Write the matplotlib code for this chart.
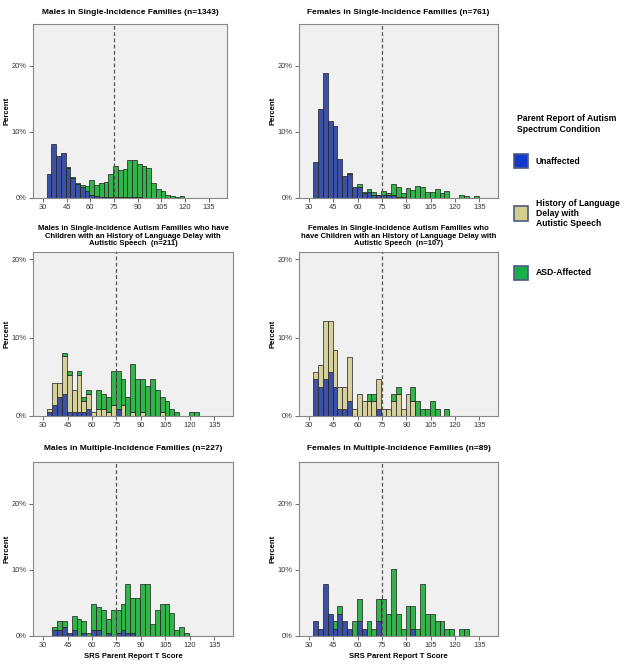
import numpy as np
import matplotlib
matplotlib.use('Agg')
import matplotlib.pyplot as plt
from matplotlib.patches import Rectangle

plt.rcParams['font.family'] = ['Liberation Sans', 'DejaVu Sans']

# bin centres of the SRS T-score histograms (bin width 3)
score_bins = [34, 37, 40, 43, 46, 49, 52, 55, 58, 61, 64, 67, 70, 73, 76, 79, 82,
              85, 88, 91, 94, 97, 100, 103, 106, 109, 112, 115, 118, 121, 124,
              127, 130, 133, 136]

# --- percent values ---
# males, single-incidence families (n=1343)
m_single_unaff = [3.6, 8.1, 6.4, 6.8, 4.6, 3.0, 2.1, 1.6, 1.1, 0.4, 0.3, 0.2, 0.2, 0.2,
                  0.2, 0.1, 0.1, 0.1, 0.1, 0.1, 0, 0, 0, 0, 0, 0, 0, 0, 0, 0, 0, 0, 0, 0, 0]
m_single_asd = [0, 0, 0, 0, 0.1, 0.1, 0.2, 0.3, 0.7, 2.3, 1.7, 2.1, 2.2, 3.4, 4.7, 4.2,
                4.3, 5.6, 5.7, 5.1, 4.9, 4.5, 2.2, 1.3, 1.1, 0.5, 0.3, 0.1, 0.3, 0, 0, 0, 0, 0, 0]

# females, single-incidence families (n=761)
f_single_unaff = [5.5, 13.4, 18.9, 11.7, 10.9, 5.9, 3.4, 3.7, 1.7, 1.7, 0.8, 0.9, 0.4, 0.4,
                  0.4, 0.5, 0.5, 0.2, 0.1, 0, 0, 0, 0, 0, 0, 0, 0, 0, 0, 0, 0, 0, 0, 0, 0]
f_single_asd = [0, 0, 0, 0, 0, 0, 0, 0.1, 0, 0.4, 0.1, 0.5, 0.5, 0.1, 0.6, 0.2, 1.6, 1.4,
                0.7, 1.5, 1.2, 1.8, 1.6, 0.9, 0.9, 1.3, 0.7, 1.0, 0, 0, 0.5, 0.3, 0, 0.3, 0]

# counts: males with language-delay children (n=211)
m_ld_n = 211
m_ld_unaff = [1, 3, 5, 6, 1, 1, 1, 1, 2, 0, 0, 0, 0, 0, 2, 0, 0, 0, 0, 0, 0, 0, 0, 0,
              0, 0, 0, 0, 0, 0, 0, 0, 0, 0, 0]
m_ld_delay = [1, 6, 4, 10, 10, 6, 10, 3, 4, 1, 2, 2, 1, 3, 0, 3, 0, 1, 0, 1, 0, 0, 0, 1,
              0, 0, 0, 0, 0, 0, 0, 0, 0, 0, 0]
m_ld_asd = [0, 0, 0, 1, 1, 0, 1, 1, 1, 0, 5, 4, 4, 9, 10, 7, 5, 13, 10, 9, 8, 10, 7, 4,
            4, 2, 1, 0, 0, 1, 1, 0, 0, 0, 0]

# counts: females with language-delay children (n=107)
f_ld_n = 107
f_ld_unaff = [5, 4, 5, 6, 4, 1, 1, 2, 0, 0, 0, 0, 0, 1, 0, 0, 0, 0, 0, 0, 0, 0, 0, 0,
              0, 0, 0, 0, 0, 0, 0, 0, 0, 0, 0]
f_ld_delay = [1, 3, 8, 7, 5, 3, 3, 6, 1, 3, 2, 2, 2, 4, 1, 1, 2, 3, 1, 3, 2, 0, 0, 0,
              0, 0, 0, 0, 0, 0, 0, 0, 0, 0, 0]
f_ld_asd = [0, 0, 0, 0, 0, 0, 0, 0, 0, 0, 0, 1, 1, 0, 0, 0, 1, 1, 0, 0, 2, 2, 1, 1,
            2, 1, 0, 1, 0, 0, 0, 0, 0, 0, 0]

# counts: males, multiple-incidence families (n=227)
m_multi_n = 227
m_multi_unaff = [0, 2, 2, 3, 1, 2, 0, 1, 0, 2, 2, 0, 1, 0, 1, 2, 1, 1, 0, 0, 0, 0, 0, 0,
                 0, 0, 0, 0, 0, 0, 0, 0, 0, 0, 0]
m_multi_asd = [0, 1, 3, 2, 0, 5, 6, 4, 1, 9, 8, 9, 5, 9, 8, 9, 17, 12, 13, 18, 18, 4, 9,
               11, 11, 8, 2, 3, 1, 0, 0, 0, 0, 0, 0]

# counts: females, multiple-incidence families (n=89)
f_multi_n = 89
f_multi_unaff = [2, 1, 7, 3, 1, 3, 2, 1, 0, 2, 1, 0, 0, 2, 0, 0, 0, 0, 0, 0, 1, 0, 0, 0,
                 0, 0, 0, 0, 0, 0, 0, 0, 0, 0, 0]
f_multi_asd = [0, 0, 0, 0, 1, 1, 0, 0, 2, 3, 0, 2, 1, 3, 5, 3, 9, 3, 1, 4, 3, 1, 7, 3,
               3, 2, 2, 1, 1, 0, 1, 1, 0, 0, 0]

x_ticks = [30, 45, 60, 75, 90, 105, 120, 135]
y_ticks = [0, 10, 20]
y_ticklabels = ['0%', '10%', '20%']

col_unaff = '#3C50A4'
col_delay = '#D6D19C'
col_asd = '#33B44A'
leg_unaff = '#1238CC'
leg_delay = '#D3CE90'
leg_asd = '#18AE4A'


def pct(counts, n):
    return [c * 100.0 / n for c in counts]


panels = [
    dict(rect=(33, 227, 24, 198), ymax=26.3, xlabel=False, tsize=6.0,
         title='Males in Single-Incidence Families (n=1343)', ty=12,
         layers=[(m_single_unaff, col_unaff), (m_single_asd, col_asd)]),
    dict(rect=(299, 498, 24, 198), ymax=26.3, xlabel=False, tsize=6.0,
         title='Females in Single-Incidence Families (n=761)', ty=12,
         layers=[(f_single_unaff, col_unaff), (f_single_asd, col_asd)]),
    dict(rect=(33, 233, 252, 416), ymax=20.9, xlabel=False, tsize=5.5,
         title='Males in Single-incidence Autism Families who have\n'
               'Children with an History of Language Delay with\n'
               'Autistic Speech  (n=211)', ty=236,
         layers=[(pct(m_ld_unaff, m_ld_n), col_unaff), (pct(m_ld_delay, m_ld_n), col_delay),
                 (pct(m_ld_asd, m_ld_n), col_asd)]),
    dict(rect=(299, 498, 252, 416), ymax=20.9, xlabel=False, tsize=5.5,
         title='Females in Single-incidence Autism Families who\n'
               'have Children with an History of Language Delay with\n'
               'Autistic Speech  (n=107)', ty=236,
         layers=[(pct(f_ld_unaff, f_ld_n), col_unaff), (pct(f_ld_delay, f_ld_n), col_delay),
                 (pct(f_ld_asd, f_ld_n), col_asd)]),
    dict(rect=(33, 233, 462, 636), ymax=26.3, xlabel=True, tsize=6.0,
         title='Males in Multiple-Incidence Families (n=227)', ty=449,
         layers=[(pct(m_multi_unaff, m_multi_n), col_unaff), (pct(m_multi_asd, m_multi_n), col_asd)]),
    dict(rect=(299, 498, 462, 636), ymax=26.3, xlabel=True, tsize=6.0,
         title='Females in Multiple-Incidence Families (n=89)', ty=449,
         layers=[(pct(f_multi_unaff, f_multi_n), col_unaff), (pct(f_multi_asd, f_multi_n), col_asd)]),
]

W, H = 624, 664
fig = plt.figure(figsize=(W / 100, H / 100), dpi=100)
fig.patch.set_facecolor('white')

for p in panels:
    x0, x1, y0, y1 = p['rect']
    ax = fig.add_axes([x0 / W, 1 - y1 / H, (x1 - x0) / W, (y1 - y0) / H])
    ax.set_facecolor('#F0F0F0')
    bottom = np.zeros(len(score_bins))
    for vals, col in p['layers']:
        vals = np.array(vals, dtype=float)
        m = vals > 0
        ax.bar(np.array(score_bins)[m], vals[m], width=3, bottom=bottom[m], color=col,
               edgecolor='#1E1E1E', linewidth=0.5, zorder=2)
        bottom += vals
    ax.axvline(75, color='#555555', lw=0.9, dashes=(3, 2), zorder=3)
    ax.set_xlim(23.8, 146.5)
    ax.set_ylim(0, p['ymax'])
    ax.set_xticks(x_ticks)
    ax.set_yticks(y_ticks)
    ax.set_yticklabels(y_ticklabels)
    ax.tick_params(length=3, width=0.6, color='#555555', labelsize=5.4,
                   labelcolor='#333333', pad=1.5)
    for s in ax.spines.values():
        s.set_color('#888888')
        s.set_linewidth(0.8)
    ax.set_ylabel('Percent', fontsize=5.6, fontweight='bold', labelpad=1)
    if p['xlabel']:
        ax.set_xlabel('SRS Parent Report T Score', fontsize=5.5, fontweight='bold', labelpad=3)
    fig.text((x0 + x1) / 2 / W, 1 - p['ty'] / H, p['title'], ha='center', va='center',
             fontsize=p['tsize'], fontweight='bold', linespacing=1.05)

# legend
fig.text(517 / W, 1 - 124 / H, 'Parent Report of Autism\nSpectrum Condition', ha='left',
         va='center', fontsize=6.2, fontweight='bold', linespacing=1.15)
legend_items = [('Unaffected', leg_unaff, 161.5),
                ('History of Language\nDelay with\nAutistic Speech', leg_delay, 213.5),
                ('ASD-Affected', leg_asd, 272.5)]
for label, col, yc in legend_items:
    fig.patches.append(Rectangle((514 / W, 1 - (yc + 7) / H), 14 / W, 14 / H,
                                 transform=fig.transFigure, facecolor=col,
                                 edgecolor='#4A5C82', linewidth=1.2))
    fig.text(536 / W, 1 - yc / H, label, ha='left', va='center', fontsize=6.2,
             fontweight='bold', linespacing=1.15)

fig.savefig('out.png', dpi=100)
